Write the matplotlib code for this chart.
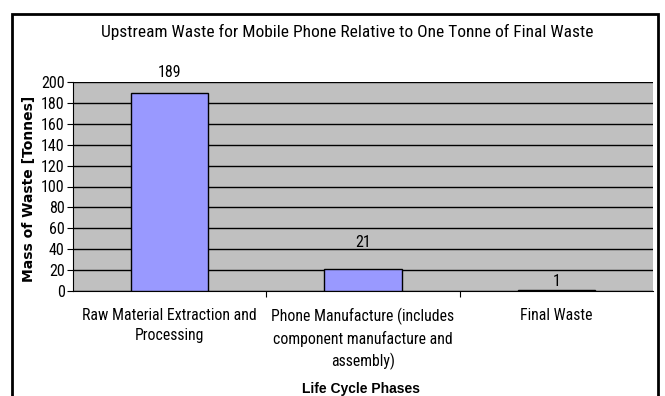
import matplotlib
matplotlib.use("Agg")
import matplotlib.pyplot as plt
from matplotlib.patches import Rectangle

NARROW = ["Roboto Condensed", "Archivo Narrow", "Liberation Sans", "DejaVu Sans"]
BOLD = ["Liberation Sans", "DejaVu Sans"]
plt.rcParams["font.family"] = NARROW

categories = [
    "Raw Material Extraction and\nProcessing",
    "Phone Manufacture (includes\ncomponent manufacture and\nassembly)",
    "Final Waste",
]
values = [189, 21, 1]
yticks = list(range(0, 201, 20))

fig = plt.figure(figsize=(6.65, 3.96), dpi=100)
fig.patch.set_facecolor("white")

# outer chart frame
fig.add_artist(Rectangle((12 / 665, -0.05), 646 / 665, 1.05 - 14 / 396,
                         transform=fig.transFigure, fill=False,
                         edgecolor="black", linewidth=2))

ax = fig.add_axes([73 / 665, 1 - 291 / 396, (653 - 73) / 665, (291 - 82) / 396])
ax.set_facecolor("#c0c0c0")
x = list(range(len(categories)))
bars = ax.bar(x, values, width=0.4, color="#9999ff", edgecolor="black",
              linewidth=1, zorder=3)
ax.set_xlim(-0.5, 2.5)
ax.set_ylim(0, 200)
ax.set_yticks(yticks)
ax.set_yticklabels([str(t) for t in yticks], fontsize=11.5)
ax.yaxis.grid(True, color="black", linewidth=1, zorder=1)
ax.set_axisbelow(True)
for s in ["top", "right"]:
    ax.spines[s].set_visible(False)
ax.spines["left"].set_linewidth(0.8)
ax.spines["bottom"].set_linewidth(0.8)
ax.tick_params(axis="y", length=4, width=0.8, pad=2)

# category labels centred, tick marks at category boundaries
ax.set_xticks([0.5, 1.5])
ax.set_xticklabels([])
ax.tick_params(axis="x", length=4, width=0.8)
for xi, lab in zip(x, categories):
    ax.annotate(lab, (xi, 0), xycoords=("data", "axes fraction"),
                xytext=(0, -12), textcoords="offset points",
                ha="center", va="top", fontsize=11.3, linespacing=1.45)

# value labels above each bar (gap in points)
label_gaps = [14.8, 19.4, 5.8]
for b, v, gap in zip(bars, values, label_gaps):
    ax.annotate(str(v), (b.get_x() + b.get_width() / 2, v),
                xytext=(0, gap), textcoords="offset points",
                ha="center", va="center", fontsize=11.5)

fig.text(29 / 665, 1 - 189 / 396, "Mass of Waste [Tonnes]", rotation=90,
         ha="center", va="center", fontsize=10, fontweight="bold",
         family=["DejaVu Sans"])
fig.text(361 / 665, 1 - 389 / 396, "Life Cycle Phases",
         ha="center", va="center", fontsize=10, fontweight="bold",
         family=BOLD)
fig.text(347 / 665, 1 - 32 / 396,
         "Upstream Waste for Mobile Phone Relative to One Tonne of Final Waste",
         ha="center", va="center", fontsize=12.5)

fig.savefig("out.png", dpi=100)
